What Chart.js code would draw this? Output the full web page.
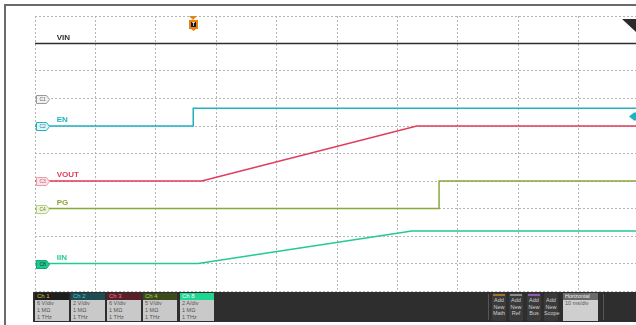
<!DOCTYPE html>
<html>
<head>
<meta charset="utf-8">
<script src="https://cdn.jsdelivr.net/npm/chart.js@4"></script>
<style>
  html, body { margin: 0; padding: 0; background: #fff; overflow: hidden; width: 636px; height: 325px; }
  #wrap { position: relative; width: 636px; height: 325px; overflow: hidden; }
  #scope { position: absolute; left: 0; top: 0; }
  .frameTop { position: absolute; left: 4px; top: 4px; width: 632px; height: 2px; background: #6b6b6b; }
  .frameLeft { position: absolute; left: 4px; top: 4px; width: 2px; height: 321px; background: #6b6b6b; }
  #bar { position: absolute; left: 33px; top: 292px; width: 603px; height: 30px; background: #2e2e2e; font-family: "Liberation Sans", Arial, sans-serif; }
  .ch { position: absolute; top: 1px; width: 34px; height: 28px; background: #c9c9c9; }
  .ch .hd { height: 7px; font-size: 6px; line-height: 7px; padding-left: 2px; }
  .ch .bd { font-size: 5.5px; line-height: 7px; color: #555; padding-left: 2px; }
  .btn { position: absolute; top: 1px; width: 14px; height: 28px; background: #3a3a3a; border-radius: 2px; color: #cfcfcf; font-size: 5.5px; line-height: 6.5px; text-align: center; }
  .btn i { display: block; height: 2px; margin: 1px 1px 1px 1px; }
  #horiz { position: absolute; left: 530px; top: 1px; width: 35px; height: 28px; background: #cfcfcf; font-size: 5.5px; }
  #horiz .hd { background: #6a6a6a; color: #eee; height: 7px; line-height: 7px; padding-left: 2px; }
  #horiz .bd { color: #555; line-height: 7px; padding-left: 2px; }
  .sep { position: absolute; top: 2px; width: 1px; height: 26px; background: #555; }
</style>
</head>
<body>
<div id="wrap">
  <canvas id="scope" width="650" height="325"></canvas>
  <div class="frameTop"></div>
  <div class="frameLeft"></div>
  <div id="bar"></div>
</div>
<script>
// time axis: 10 ms/div, 10 divisions; vertical values in screen divisions (0 = bottom, 10 = top)
var vinT = [0, 100];
var vinV = [9, 9];

var enT = [0, 26.2, 26.2, 100];
var enV = [6, 6, 6.65, 6.65];

var voutT = [0, 27.6, 63.2, 100];
var voutV = [4, 4, 6, 6];

var pgT = [0, 66.9, 66.9, 100];
var pgV = [3, 3, 4, 4];

var iinT = [0, 27.0, 62.4, 100];
var iinV = [1, 1, 2.18, 2.18];

var traceNames = ['VIN', 'EN', 'VOUT', 'PG', 'IIN'];
var traceColors = ['#2f2f2f', '#1fb3c2', '#df3d5a', '#88a83a', '#25c994'];

var markerNames = ['C1', 'C2', 'C3', 'C4', 'C8'];
var markerLevels = [7, 6, 4, 3, 1];

var triggerTime = 26.2;
var triggerLevel = 6.35;

var chInfo = [
    { name: 'Ch 1', scale: '6 V/div', hdBg: '#1e1e1e', hdFg: '#d8c33a' },
    { name: 'Ch 2', scale: '2 V/div', hdBg: '#1f4b52', hdFg: '#3fc8d6' },
    { name: 'Ch 3', scale: '6 V/div', hdBg: '#5a1f27', hdFg: '#f07a8c' },
    { name: 'Ch 4', scale: '5 V/div', hdBg: '#3c4a1c', hdFg: '#a9d25a' },
    { name: 'Ch 8', scale: '2 A/div', hdBg: '#1fd592', hdFg: '#ffffff' }
];
var chLeft = [2, 38, 74, 110, 147];

function pts(t, v) {
    var out = [];
    for (var i = 0; i < t.length; i++) out.push({ x: t[i], y: v[i] });
    return out;
}

var seriesT = [vinT, enT, voutT, pgT, iinT];
var seriesV = [vinV, enV, voutV, pgV, iinV];

var datasets = [];
for (var i = 0; i < traceNames.length; i++) {
    datasets.push({
        label: traceNames[i],
        data: pts(seriesT[i], seriesV[i]),
        borderColor: traceColors[i],
        borderWidth: i == 0 ? 1.3 : 1.5,
        pointRadius: 0,
        tension: 0,
        fill: false
    });
}

// labels, channel markers and trigger symbols
var decor = {
    id: 'decor',
    afterDatasetsDraw: function(chart) {
        var ctx = chart.ctx;
        var xs = chart.scales.x, ys = chart.scales.y;
        ctx.save();

        // trace names
        ctx.font = 'bold 8px "Liberation Sans", Arial, sans-serif';
        ctx.textBaseline = 'bottom';
        for (var i = 0; i < traceNames.length; i++) {
            ctx.fillStyle = traceColors[i];
            ctx.fillText(traceNames[i], xs.getPixelForValue(3.6), ys.getPixelForValue(seriesV[i][0]) - 2);
        }

        // channel markers on the left
        var mFill = ['#f1f1f1', '#dff6f8', '#fbe3e7', '#eef6dc', '#1fc98e'];
        var mLine = ['#9a9a9a', '#1fb3c2', '#eb9aa8', '#b5cf85', '#16a374'];
        var mText = ['#666', '#3a7d85', '#c06070', '#6b7f3a', '#0b3a2a'];
        ctx.font = '5px "Liberation Sans", Arial, sans-serif';
        ctx.textBaseline = 'middle';
        for (var k = 0; k < markerNames.length; k++) {
            var y = Math.round(ys.getPixelForValue(markerLevels[k])) + 0.5;
            var x0 = xs.left + 1.5;
            ctx.beginPath();
            ctx.moveTo(x0, y - 4);
            ctx.lineTo(x0 + 10, y - 4);
            ctx.lineTo(x0 + 13, y);
            ctx.lineTo(x0 + 10, y + 4);
            ctx.lineTo(x0, y + 4);
            ctx.closePath();
            ctx.fillStyle = mFill[k];
            ctx.fill();
            ctx.strokeStyle = mLine[k];
            ctx.lineWidth = 1;
            ctx.stroke();
            ctx.fillStyle = mText[k];
            ctx.fillText(markerNames[k], x0 + 3, y);
        }

        // trigger position marker at the top
        var tx = Math.round(xs.getPixelForValue(triggerTime));
        var top = ys.top;
        ctx.fillStyle = '#e8820e';
        ctx.beginPath();
        ctx.moveTo(tx - 4, top);
        ctx.lineTo(tx + 4, top);
        ctx.lineTo(tx, top + 4);
        ctx.closePath();
        ctx.fill();
        ctx.fillRect(tx - 4, top + 4, 9, 9);
        ctx.fillStyle = '#1a1a1a';
        ctx.fillRect(tx - 2, top + 6, 5, 5);
        ctx.fillStyle = '#e8820e';
        ctx.beginPath();
        ctx.moveTo(tx - 2, top + 13);
        ctx.lineTo(tx + 3, top + 13);
        ctx.lineTo(tx + 0.5, top + 15);
        ctx.closePath();
        ctx.fill();
        ctx.fillStyle = '#f2f2f2';
        ctx.font = 'bold 5px "Liberation Sans", Arial, sans-serif';
        ctx.textAlign = 'center';
        ctx.fillText('T', tx + 0.5, top + 8.5);

        // trigger level marker at the right edge
        var ly = ys.getPixelForValue(triggerLevel);
        ctx.fillStyle = '#1fb3c2';
        ctx.beginPath();
        ctx.moveTo(629, ly);
        ctx.lineTo(634, ly - 4);
        ctx.lineTo(636, ly - 4);
        ctx.lineTo(636, ly + 4);
        ctx.lineTo(634, ly + 4);
        ctx.closePath();
        ctx.fill();

        // dark corner at top right
        ctx.fillStyle = '#2a2a2a';
        ctx.beginPath();
        ctx.moveTo(622, top + 3);
        ctx.lineTo(636, top + 3);
        ctx.lineTo(636, top + 16);
        ctx.closePath();
        ctx.fill();
        ctx.restore();
    }
};

new Chart(document.getElementById('scope').getContext('2d'), {
    type: 'line',
    data: { datasets: datasets },
    options: {
        responsive: false,
        animation: false,
        devicePixelRatio: 1,
        layout: { padding: { left: 35, top: 16, right: 11, bottom: 34 } },
        plugins: { legend: { display: false }, tooltip: { enabled: false } },
        scales: {
            x: {
                type: 'linear', min: 0, max: 100,
                ticks: { display: false, stepSize: 10 },
                grid: { color: '#b4b4b4', drawTicks: false, lineWidth: 1 },
                border: { display: false, dash: [2, 2] }
            },
            y: {
                type: 'linear', min: 0, max: 10,
                ticks: { display: false, stepSize: 1 },
                grid: { color: '#b4b4b4', drawTicks: false, lineWidth: 1 },
                border: { display: false, dash: [2, 2] }
            }
        }
    },
    plugins: [decor]
});

// bottom status bar
var bar = document.getElementById('bar');
for (var c = 0; c < chInfo.length; c++) {
    var box = document.createElement('div');
    box.className = 'ch';
    box.style.left = chLeft[c] + 'px';
    box.innerHTML = '<div class="hd" style="background:' + chInfo[c].hdBg + ';color:' + chInfo[c].hdFg + '">' + chInfo[c].name + '</div>' +
        '<div class="bd">' + chInfo[c].scale + '<br>1 MΩ<br>1 THz</div>';
    bar.appendChild(box);
}
var btnNames = ['Math', 'Ref', 'Bus', 'Scope'];
var btnColors = ['#a0702c', '#8a8a96', '#8e5ab0', '#3a3a3a'];
var btnLeft = [459, 476, 494, 511];
for (var b = 0; b < btnNames.length; b++) {
    var bt = document.createElement('div');
    bt.className = 'btn';
    bt.style.left = btnLeft[b] + 'px';
    bt.innerHTML = '<i style="background:' + btnColors[b] + '"></i>Add<br>New<br>' + btnNames[b];
    bar.appendChild(bt);
}
var s1 = document.createElement('div'); s1.className = 'sep'; s1.style.left = '455px'; bar.appendChild(s1);
var s2 = document.createElement('div'); s2.className = 'sep'; s2.style.left = '570px'; bar.appendChild(s2);
var hz = document.createElement('div');
hz.id = 'horiz';
hz.innerHTML = '<div class="hd">Horizontal</div><div class="bd">10 ms/div</div>';
bar.appendChild(hz);
</script>
</body>
</html>
